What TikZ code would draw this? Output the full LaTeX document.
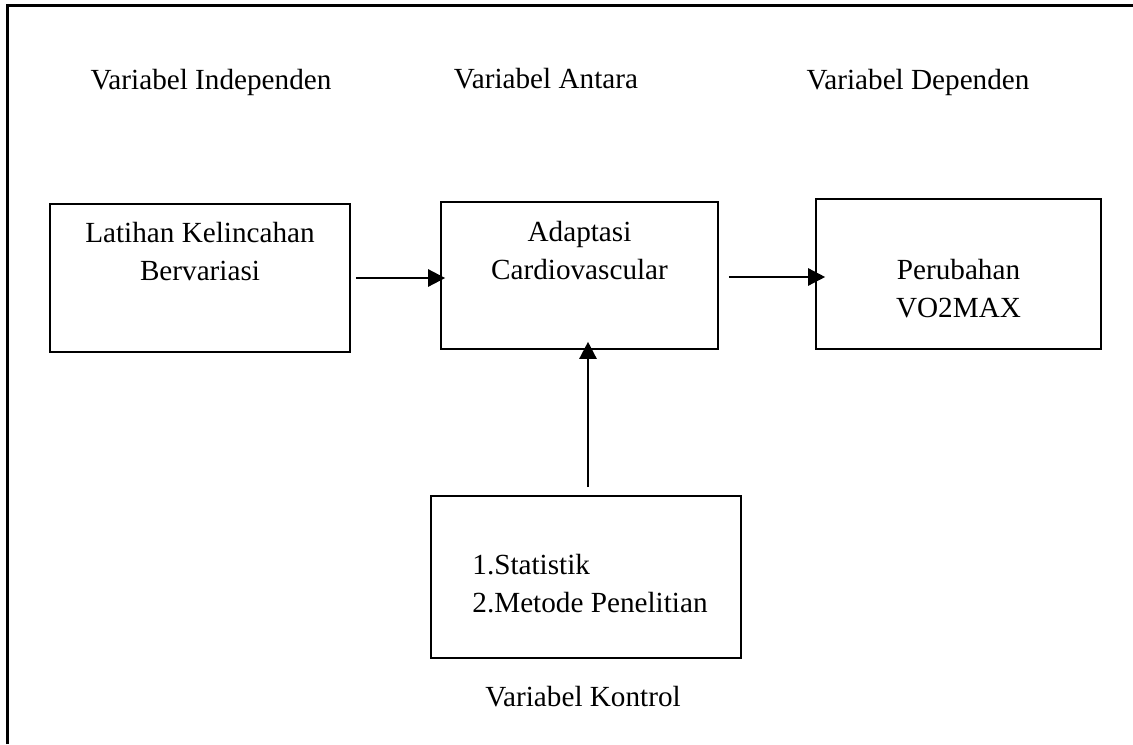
\documentclass[tikz,border=0pt]{standalone}
\usepackage{fontspec}
\setmainfont{Liberation Serif}
\usetikzlibrary{arrows.meta}
\begin{document}
\begin{tikzpicture}[x=0.5pt,y=-0.5pt,
  boxnode/.style={draw=black, line width=0.8pt, rectangle, inner sep=0pt},
  txt/.style={font=\fontsize{14.6}{19}\selectfont, align=center, inner sep=0pt},
  arr/.style={line width=1.2pt, -{Triangle[length=8.5pt,width=8.5pt]}}]
\useasboundingbox (0,0) rectangle (1133,744);
\draw[line width=1.5pt] (7.5,744) -- (7.5,5.5) -- (1133,5.5);
% headings
\node[txt] (h1) at (211,82) {Variabel Independen};
\node[txt] (h2) at (546,79) {Variabel Antara};
\node[txt] (h3) at (918,82) {Variabel Dependen};
\node[txt] (h4) at (583,697) {Variabel Kontrol};
% boxes
\node[boxnode, minimum width=150pt, minimum height=74pt] (b1) at (200,278) {};
\node[boxnode, minimum width=138.5pt, minimum height=73.5pt] (b2) at (579.5,275.5) {};
\node[boxnode, minimum width=142.5pt, minimum height=75pt] (b3) at (958.5,274) {};
\node[boxnode, minimum width=155pt, minimum height=81pt] (b4) at (586,577) {};
% box texts
\node[txt] (t1) at (200,252) {Latihan Kelincahan\\Bervariasi};
\node[txt] (t2) at (579.5,251) {Adaptasi\\Cardiovascular};
\node[txt] (t3) at (958.5,288.5) {Perubahan\\VO2MAX};
\node[txt, align=left, anchor=west] (t4) at (472,584) {1.Statistik\\2.Metode Penelitian};
% arrows
\draw[arr] ([xshift=2.5pt]b1.east) -- ([xshift=2.5pt]b1.east -| b2.west);
\draw[arr] ([xshift=5pt,yshift=-0.75pt]b2.east) -- ([xshift=5pt,yshift=-0.75pt]b2.east -| b3.west);
\draw[arr] ([xshift=1pt,yshift=4pt]b4.north) -- ([xshift=1pt,yshift=4pt]b4.north |- b2.south);
\end{tikzpicture}
\end{document}
